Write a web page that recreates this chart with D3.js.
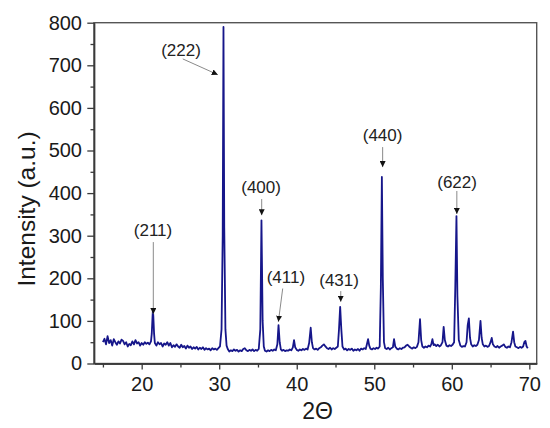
<!DOCTYPE html>
<html>
<head>
<meta charset="utf-8">
<script src="https://cdn.jsdelivr.net/npm/d3@7"></script>
<style>
  html, body { margin: 0; padding: 0; background: #fff; }
  svg { display: block; font-family: "Liberation Sans", Arial, sans-serif; }
</style>
</head>
<body>
<svg id="chart" width="550" height="428"></svg>
<script>
// ---- data ----
const twoTheta = [
  15.0,15.2,15.4,15.6,15.8,16.0,16.2,16.4,16.6,16.8,17.0,17.2,17.4,17.6,17.8,18.0,18.2,18.4,18.6,18.8,
  19.0,19.2,19.4,19.6,19.8,20.0,20.2,20.4,20.6,20.8,21.0,21.2,21.3,21.4,21.45,21.5,21.6,21.7,21.9,22.1,
  22.3,22.5,22.7,22.9,23.1,23.3,23.5,23.7,23.9,24.1,24.3,24.5,24.7,24.9,25.1,25.3,25.5,25.7,25.9,26.1,
  26.3,26.5,26.7,26.9,27.1,27.3,27.5,27.7,27.9,28.1,28.3,28.5,28.7,28.9,29.1,29.3,29.5,29.7,29.9,30.1,
  30.3,30.45,30.55,30.65,30.8,30.95,31.1,31.3,31.5,31.7,31.9,32.1,32.3,32.5,32.7,32.9,33.1,33.3,33.5,33.7,
  33.9,34.1,34.3,34.5,34.7,34.9,35.1,35.3,35.45,35.6,35.75,35.9,36.1,36.3,36.5,36.7,36.9,37.1,37.3,37.5,
  37.65,37.8,37.95,38.1,38.3,38.5,38.7,38.9,39.1,39.3,39.5,39.65,39.8,40.0,40.2,40.4,40.6,40.8,41.0,41.2,
  41.4,41.6,41.8,41.95,42.1,42.3,42.5,42.7,42.9,43.1,43.3,43.5,43.7,43.9,44.1,44.3,44.5,44.7,44.9,45.1,
  45.3,45.45,45.6,45.75,45.9,46.1,46.3,46.5,46.7,46.9,47.1,47.3,47.5,47.7,47.9,48.1,48.3,48.5,48.7,48.9,
  49.05,49.2,49.35,49.5,49.7,49.9,50.1,50.3,50.5,50.7,50.85,50.98,51.1,51.25,51.4,51.6,51.8,52.0,52.2,52.4,
  52.55,52.7,52.9,53.1,53.3,53.5,53.7,53.9,54.1,54.3,54.5,54.7,54.9,55.1,55.3,55.5,55.7,55.9,56.05,56.2,
  56.4,56.6,56.8,57.0,57.2,57.35,57.5,57.65,57.8,58.0,58.2,58.4,58.6,58.8,58.95,59.1,59.3,59.5,59.7,59.9,
  60.1,60.3,60.45,60.6,60.72,60.9,61.1,61.3,61.5,61.7,61.9,62.05,62.2,62.35,62.5,62.7,62.9,63.1,63.3,63.5,
  63.7,63.85,64.0,64.2,64.4,64.6,64.8,65.0,65.15,65.3,65.5,65.7,65.9,66.1,66.3,66.5,66.7,66.9,67.1,67.3,
  67.5,67.7,67.9,68.05,68.2,68.4,68.6,68.8,69.0,69.2,69.35,69.5,69.65,69.8
];
const intensity = [
  50,58,45,64,48,55,42,57,50,44,52,47,56,53,45,50,40,46,43,52,
  45,55,47,50,42,48,44,50,46,49,45,52,70,110,126,112,70,48,42,50,
  45,48,40,47,44,50,42,48,38,43,39,45,40,37,44,38,41,35,42,37,
  40,34,38,35,39,33,37,34,38,32,36,33,35,31,36,33,35,32,36,40,
  80,300,790,320,80,42,34,28,31,29,33,30,32,28,31,29,34,36,31,29,
  32,30,33,29,32,30,34,80,336,100,40,30,28,31,29,32,30,33,31,45,
  90,50,33,30,32,29,31,30,33,31,38,55,38,32,30,33,31,34,32,35,
  33,48,84,50,36,33,35,32,36,38,42,45,40,36,34,37,33,36,34,37,
  40,80,133,80,40,33,35,31,34,32,35,30,33,31,34,30,35,33,36,34,
  45,57,42,35,33,36,34,37,35,40,180,438,200,50,36,34,37,33,36,38,
  57,40,35,33,36,34,37,38,42,44,40,37,35,38,36,39,50,104,55,40,
  37,40,38,42,40,45,57,43,45,41,44,40,43,50,86,55,42,40,43,41,
  44,50,180,346,160,55,42,39,41,40,50,90,106,60,45,40,43,41,44,55,
  100,60,45,40,42,39,41,50,60,45,40,38,41,37,40,42,45,39,37,40,
  38,50,75,50,40,38,36,39,37,40,50,53,40,36
];
const xTicks = [20, 30, 40, 50, 60, 70];
const xMinorTicks = [15, 25, 35, 45, 55, 65];
const yTicks = [0, 100, 200, 300, 400, 500, 600, 700, 800];
const yMinorTicks = [50, 150, 250, 350, 450, 550, 650, 750];

// peak annotations: label, label anchor (angle, intensity), arrow start and end
const peakLabels   = ["(211)", "(222)", "(400)", "(411)", "(431)", "(440)", "(622)"];
const labelAngle   = [21.46, 25.07, 35.4, 38.6, 45.46, 51.07, 60.68];
const labelLevel   = [300, 722, 401, 189, 182, 522, 413];
const arrowFromX   = [21.5, 25.3, 35.48, 38.19, 45.68, 51.08, 60.65];
const arrowFromY   = [285, 715, 386, 176, 170, 508, 405];
const arrowToX     = [21.5, 29.82, 35.48, 37.63, 45.68, 51.08, 60.65];
const arrowToY     = [116, 678, 348, 98, 145, 461, 351];

// ---- chart ----
const svg = d3.select("#chart");
const x = d3.scaleLinear().domain([13.85, 70.95]).range([94, 536.7]);
const y = d3.scaleLinear().domain([0, 800]).range([363.5, 22.7]);
const frameColor = "#3a3a3a";

// frame
svg.append("rect")
  .attr("x", x.range()[0]).attr("y", y.range()[1])
  .attr("width", x.range()[1] - x.range()[0])
  .attr("height", y.range()[0] - y.range()[1])
  .attr("fill", "none").attr("stroke", "#555").attr("stroke-width", 1.4);

// x axis
const gx = svg.append("g").attr("transform", `translate(0,${y.range()[0]})`);
gx.call(d3.axisBottom(x).tickValues(xTicks).tickSize(6).tickPadding(7.5).tickSizeOuter(0));
const gxm = svg.append("g").attr("transform", `translate(0,${y.range()[0]})`);
gxm.call(d3.axisBottom(x).tickValues(xMinorTicks).tickSize(4).tickFormat("").tickSizeOuter(0));

// y axis
const gy = svg.append("g").attr("transform", `translate(${x.range()[0]},0)`);
gy.call(d3.axisLeft(y).tickValues(yTicks).tickSize(6.7).tickPadding(5.3).tickSizeOuter(0));
const gym = svg.append("g").attr("transform", `translate(${x.range()[0]},0)`);
gym.call(d3.axisLeft(y).tickValues(yMinorTicks).tickSize(3.5).tickFormat("").tickSizeOuter(0));

[gx, gxm, gy, gym].forEach(g => {
  g.selectAll(".domain").attr("stroke", frameColor).attr("stroke-width", 1.4);
  g.selectAll(".tick line").attr("stroke", frameColor).attr("stroke-width", 1.3);
  g.selectAll(".tick text").attr("fill", "#1a1a1a")
    .style("font-family", '"Liberation Sans", Arial, sans-serif').style("font-size", "20px");
});

// axis titles
svg.append("text")
  .attr("transform", "translate(35,209) rotate(-90)")
  .attr("text-anchor", "middle")
  .attr("fill", "#1a1a1a")
  .style("font-size", "24.5px")
  .text("Intensity (a.u.)");
svg.append("text")
  .attr("x", 317.5).attr("y", 419)
  .attr("text-anchor", "middle")
  .attr("fill", "#1a1a1a")
  .style("font-size", "23px")
  .text("2Θ");

// pattern line
const pts = twoTheta.map((t, i) => [t, intensity[i]]);
svg.append("path")
  .datum(pts)
  .attr("fill", "none")
  .attr("stroke", "#16168a")
  .attr("stroke-width", 1.8)
  .attr("stroke-linejoin", "round")
  .attr("d", d3.line().x(d => x(d[0])).y(d => y(d[1])));

// arrowhead marker
svg.append("defs").append("marker")
  .attr("id", "ah").attr("viewBox", "0 0 10 10")
  .attr("refX", 10).attr("refY", 5)
  .attr("markerWidth", 6).attr("markerHeight", 6)
  .attr("markerUnits", "userSpaceOnUse")
  .attr("orient", "auto")
  .append("path").attr("d", "M0,0 L10,5 L0,10 Z").attr("fill", "#111");

// annotations
peakLabels.forEach((lab, i) => {
  svg.append("line")
    .attr("x1", x(arrowFromX[i])).attr("y1", y(arrowFromY[i]))
    .attr("x2", x(arrowToX[i])).attr("y2", y(arrowToY[i]))
    .attr("stroke", "#8a8a8a").attr("stroke-width", 1)
    .attr("marker-end", "url(#ah)");
  svg.append("text")
    .attr("x", x(labelAngle[i])).attr("y", y(labelLevel[i]))
    .attr("text-anchor", "middle")
    .attr("fill", "#222")
    .style("font-size", "17px")
    .text(lab);
});
</script>
</body>
</html>
